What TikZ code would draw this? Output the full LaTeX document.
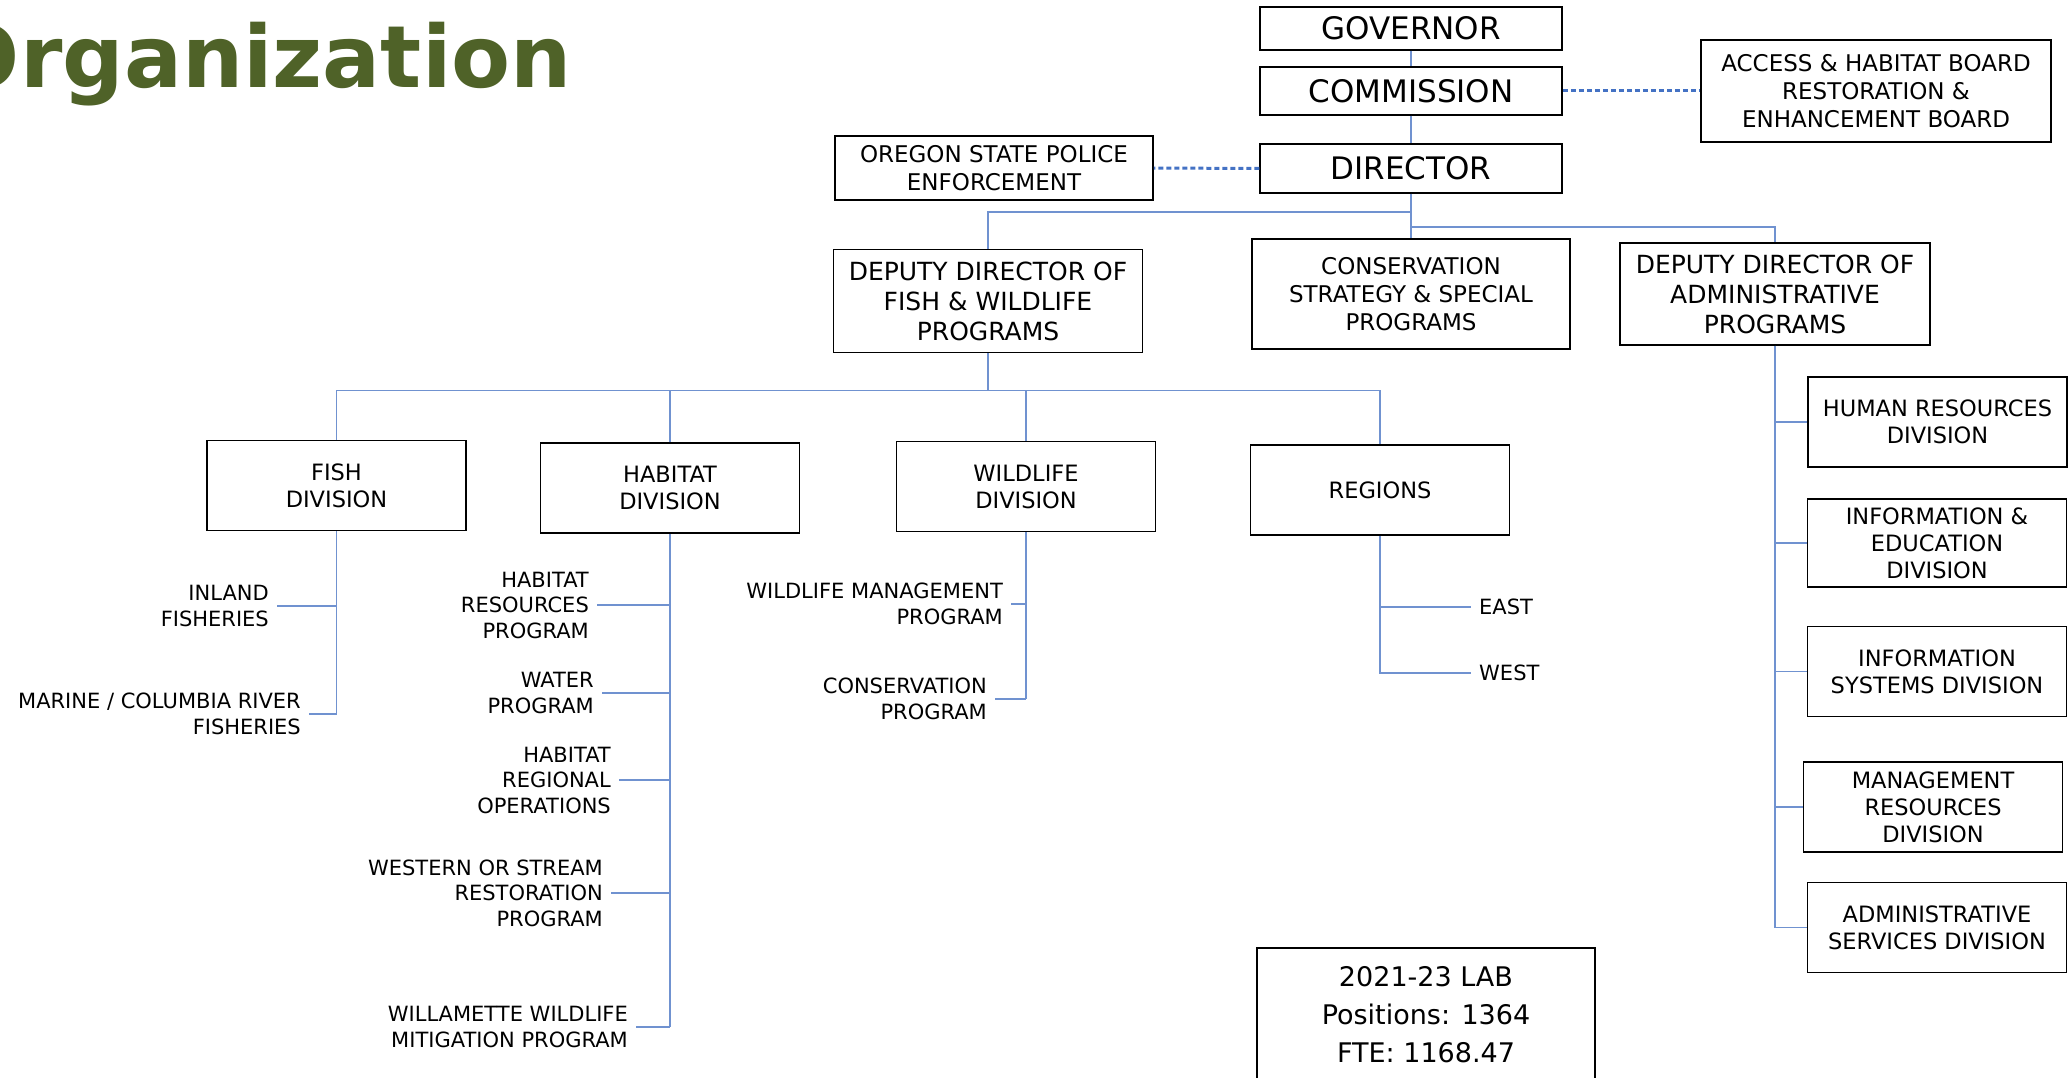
\documentclass[tikz,border=0pt]{standalone}
\usepackage{fontspec}
\setmainfont{DejaVu Sans}
\definecolor{odfwgreen}{RGB}{79,98,40}
\definecolor{linkblue}{RGB}{112,146,208}
\definecolor{dashblue}{RGB}{68,114,196}
\tikzset{
  unit/.style={draw=black, line width=1.5pt, align=center, inner sep=0pt},
  topbox/.style={unit, minimum width=302pt, font=\fontsize{31}{36}\selectfont},
  midbox/.style={unit, font=\fontsize{23}{28}\selectfont},
  divbox/.style={unit, minimum width=259pt, minimum height=90pt, font=\fontsize{22.5}{27}\selectfont},
  link/.style={draw=linkblue, line width=1.5pt},
  dotlink/.style={draw=dashblue, line width=3pt, dash pattern=on 5pt off 3pt},
  prog/.style={anchor=east, align=right, inner xsep=8pt, inner ysep=0pt, font=\fontsize{21}{25.5}\selectfont},
  reg/.style={anchor=west, inner xsep=8pt, inner ysep=0pt, font=\fontsize{21}{25.5}\selectfont},
}

\begin{document}
\begin{tikzpicture}[x=1pt, y=-1pt]

  \useasboundingbox (0,0) rectangle (2068,1078);

  \node [anchor=base east, inner sep=0pt, text=odfwgreen, font=\fontsize{86}{90}\selectfont\bfseries] (title) at (572,88) {Organization};

  % top of the chart
  \node [topbox, minimum height=43pt] (governor) at (1411,28.5) {GOVERNOR};
  \node [topbox, minimum height=48pt] (commission) at (1411,91) {COMMISSION};
  \node [topbox, minimum height=49pt] (director) at (1411,168.5) {DIRECTOR};
  \node [midbox, minimum width=350pt, minimum height=102pt] (access) at (1876,91) {ACCESS \& HABITAT BOARD\\RESTORATION \&\\ENHANCEMENT BOARD};
  \node [midbox, minimum width=318pt, minimum height=64pt] (osp) at (994,168) {OREGON STATE POLICE\\ENFORCEMENT};

  \draw [link] (governor) -- (commission);
  \draw [link] (commission) -- (director);
  \draw [dotlink] (commission.east) -- (access.west);
  \draw [dotlink] (director.west) -- (osp.east);

  % second row
  \node [unit, minimum width=309pt, minimum height=103pt, font=\fontsize{25}{30}\selectfont] (ddfw) at (988,301) {DEPUTY DIRECTOR OF\\FISH \& WILDLIFE\\PROGRAMS};
  \node [midbox, minimum width=318pt, minimum height=110pt] (conservation) at (1411,294) {CONSERVATION\\STRATEGY \& SPECIAL\\PROGRAMS};
  \node [unit, minimum width=310pt, minimum height=102pt, font=\fontsize{25}{30}\selectfont] (admin) at (1775,294) {DEPUTY DIRECTOR OF\\ADMINISTRATIVE\\PROGRAMS};

  \draw [link] (director.south) -- (conservation.north);
  \draw [link] (director.south) ++(0,18) -| (ddfw.north);
  \draw [link] (director.south) ++(0,33) -| (admin.north);

  % divisions under fish & wildlife
  \node [divbox] (fish) at (336.5,485.5) {FISH\\DIVISION};
  \node [divbox] (habitat) at (670,488) {HABITAT\\DIVISION};
  \node [divbox] (wildlife) at (1026,486.5) {WILDLIFE\\DIVISION};
  \node [divbox] (regions) at (1380,490) {REGIONS};

  \draw [link] (ddfw.south) -- ++(0,37) coordinate (fwbar);
  \draw [link] (fish.north) |- (fwbar) -| (regions.north);
  \foreach \n in {habitat,wildlife} \draw [link] (\n.north) -- (\n.north |- fwbar);

  % programs
  \node [prog] (inland) at (277,606) {INLAND\\FISHERIES};
  \node [prog] (marine) at (309,714) {MARINE / COLUMBIA RIVER\\FISHERIES};

  \node [prog] (habres) at (597,605) {HABITAT\\RESOURCES\\PROGRAM};
  \node [prog] (water) at (602,693) {WATER\\PROGRAM};
  \node [prog] (habreg) at (619,780) {HABITAT\\REGIONAL\\OPERATIONS};
  \node [prog] (western) at (611,893) {WESTERN OR STREAM\\RESTORATION\\PROGRAM};
  \node [prog] (willamette) at (636,1027) {WILLAMETTE WILDLIFE\\MITIGATION PROGRAM};

  \node [prog] (wlmgmt) at (1011,604) {WILDLIFE MANAGEMENT\\PROGRAM};
  \node [prog] (consprog) at (995,699) {CONSERVATION\\PROGRAM};

  \node [reg] (regeast) at (1471,607) {EAST};
  \node [reg] (regwest) at (1471,673) {WEST};

  \draw [link] (fish.south) -- (fish.south |- marine.east);
  \foreach \n in {inland,marine} \draw [link] (\n.east) -- (\n.east -| fish.south);

  \draw [link] (habitat.south) -- (habitat.south |- willamette.east);
  \foreach \n in {habres,water,habreg,western,willamette} \draw [link] (\n.east) -- (\n.east -| habitat.south);

  \draw [link] (wildlife.south) -- (wildlife.south |- consprog.east);
  \foreach \n in {wlmgmt,consprog} \draw [link] (\n.east) -- (\n.east -| wildlife.south);

  \foreach \n in {regeast,regwest} \draw [link] (regions.south) |- (\n.west);

  % administrative divisions
  \node [divbox] (hr) at (1937.5,422) {HUMAN RESOURCES\\DIVISION};
  \node [divbox, minimum height=88pt] (infoedu) at (1937,543) {INFORMATION \&\\EDUCATION\\DIVISION};
  \node [divbox] (infosys) at (1937,671.5) {INFORMATION\\SYSTEMS DIVISION};
  \node [divbox] (mgmt) at (1933,807) {MANAGEMENT\\RESOURCES\\DIVISION};
  \node [divbox] (adminsvc) at (1937,927.5) {ADMINISTRATIVE\\SERVICES DIVISION};

  \foreach \n in {hr,infoedu,infosys,mgmt,adminsvc} \draw [link] (admin.south) |- (\n.west);

  % budget box
  \node [unit, minimum width=338pt, minimum height=134pt, font=\fontsize{27}{38}\selectfont] (lab) at (1426,1015) {2021-23 LAB\\Positions: 1364\\FTE: 1168.47};

\end{tikzpicture}
\end{document}
